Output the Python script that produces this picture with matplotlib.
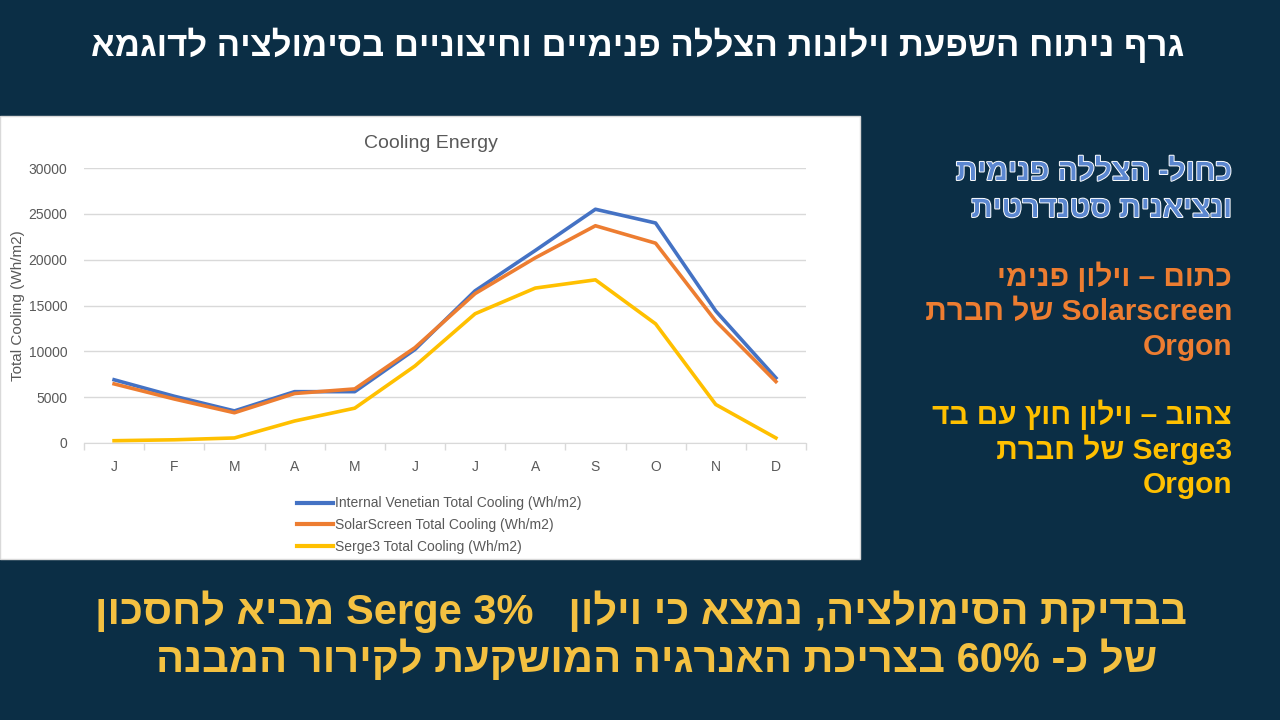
import re
import matplotlib
matplotlib.use("Agg")
import matplotlib.pyplot as plt
import matplotlib.patheffects as pe
from matplotlib.patches import Rectangle

months = ["J", "F", "M", "A", "M", "J", "J", "A", "S", "O", "N", "D"]
internal_venetian = [6900, 5100, 3500, 5600, 5600, 10200, 16600, 21000, 25500, 24000, 14400, 7100]
solarscreen = [6450, 4800, 3300, 5400, 5900, 10400, 16300, 20200, 23700, 21800, 13300, 6700]
serge3 = [250, 350, 550, 2400, 3800, 8400, 14100, 16900, 17800, 13000, 4200, 550]
series_labels = ["Internal Venetian Total Cooling (Wh/m2)",
                 "SolarScreen Total Cooling (Wh/m2)",
                 "Serge3 Total Cooling (Wh/m2)"]
yticks = [0, 5000, 10000, 15000, 20000, 25000, 30000]

title_he = "גרף ניתוח השפעת וילונות הצללה פנימיים וחיצוניים בסימולציה לדוגמא"
side_blue = ["כחול- הצללה פנימית", "ונציאנית סטנדרטית"]
side_orange = ["כתום – וילון פנימי", "Solarscreen של חברת ", "Orgon"]
side_yellow = ["צהוב – וילון חוץ עם בד", "Serge3 של חברת ", "Orgon"]
bottom_lines = ["בבדיקת הסימולציה, נמצא כי וילון   Serge 3% מביא לחסכון",
                "של כ- 60% בצריכת האנרגיה המושקעת לקירור המבנה"]

BG = "#0b2e45"
C_BLUE = "#4472c4"
C_ORANGE = "#ed7d31"
C_YELLOW = "#ffc000"
GREY = "#595959"
GRID = "#d9d9d9"

LTR = re.compile(r"[A-Za-z0-9%]+(?:[ .][A-Za-z0-9%]+)*")


def visual(s):
    r = s[::-1]
    return LTR.sub(lambda m: m.group(0)[::-1], r)


HEB = ["Liberation Sans", "DejaVu Sans"]
CHART_FONT = ["Liberation Sans Narrow", "Liberation Sans", "DejaVu Sans"]

fig = plt.figure(figsize=(12.8, 7.2), dpi=100)
fig.patch.set_facecolor(BG)

W, H = 1280, 720


def fx(x):
    return x / W


def fy(y):
    return 1 - y / H


# white chart panel
fig.patches.append(Rectangle((0, fy(559)), fx(860), fy(116) - fy(559),
                             transform=fig.transFigure, facecolor="white",
                             edgecolor="#d9d9d9", lw=1, zorder=-10))

ax = fig.add_axes([fx(84), fy(443), fx(806) - fx(84), fy(168) - fy(443)])
ax.set_zorder(1)
ax.set_facecolor("white")
x = list(range(len(months)))
ax.plot(x, internal_venetian, color=C_BLUE, lw=2.6, label=series_labels[0], solid_joinstyle="round")
ax.plot(x, solarscreen, color=C_ORANGE, lw=2.6, label=series_labels[1], solid_joinstyle="round")
ax.plot(x, serge3, color=C_YELLOW, lw=2.6, label=series_labels[2], solid_joinstyle="round")
ax.set_xlim(-0.5, len(months) - 0.5)
ax.set_ylim(0, 30000)
ax.set_yticks(yticks)
ax.set_yticklabels([str(v) for v in yticks], color=GREY, fontsize=10, family=CHART_FONT)
ax.set_xticks(x)
ax.set_xticklabels(months, color=GREY, fontsize=10, family=CHART_FONT)
ax.tick_params(axis="x", length=0, pad=12)
ax.tick_params(axis="y", length=0, pad=12)
ax.set_xticks([i - 0.5 for i in range(len(months) + 1)], minor=True)
ax.tick_params(axis="x", which="minor", length=5, color=GRID, width=1)
ax.grid(axis="y", color=GRID, lw=1)
ax.set_axisbelow(True)
for s in ["top", "right", "left"]:
    ax.spines[s].set_visible(False)
ax.spines["bottom"].set_color(GRID)
fig.text(fx(18), fy(306), "Total Cooling (Wh/m2)", color=GREY, fontsize=11, family=HEB,
         rotation=90, ha="center", va="center")
fig.text(fx(431), fy(144), "Cooling Energy", color=GREY, fontsize=14, family=CHART_FONT,
         ha="center", va="center")

leg = fig.legend(loc="upper left", bbox_to_anchor=(fx(284), fy(484)), ncol=1, frameon=False,
                 handlelength=2.6, handletextpad=0.2, labelspacing=0.55,
                 prop={"family": CHART_FONT, "size": 10})
for t in leg.get_texts():
    t.set_color(GREY)
for l in leg.get_lines():
    l.set_linewidth(3)

# title
fig.text(fx(638), fy(45), visual(title_he), color="white", fontsize=25, fontweight="bold",
         family=HEB, ha="center", va="center")

# side notes
RX = fx(1232)
blue_y = [172, 209]
for yy, s in zip(blue_y, side_blue):
    fig.text(RX, fy(yy), visual(s), color="#5b87d0", fontsize=21.5, fontweight="bold",
             family=HEB, ha="right", va="center",
             path_effects=[pe.withStroke(linewidth=1.4, foreground="white")])
for yy, s in zip([277, 312, 347], side_orange):
    fig.text(RX, fy(yy), visual(s), color=C_ORANGE, fontsize=21.5, fontweight="bold",
             family=HEB, ha="right", va="center")
for yy, s in zip([415, 450, 485], side_yellow):
    fig.text(RX, fy(yy), visual(s), color=C_YELLOW, fontsize=21.5, fontweight="bold",
             family=HEB, ha="right", va="center")

# bottom conclusion
for xx, yy, s in zip([641, 657], [612, 660], bottom_lines):
    fig.text(fx(xx), fy(yy), visual(s), color="#f4c141", fontsize=30, fontweight="bold",
             family=HEB, ha="center", va="center")

fig.savefig("out.png", dpi=100, facecolor=BG)
